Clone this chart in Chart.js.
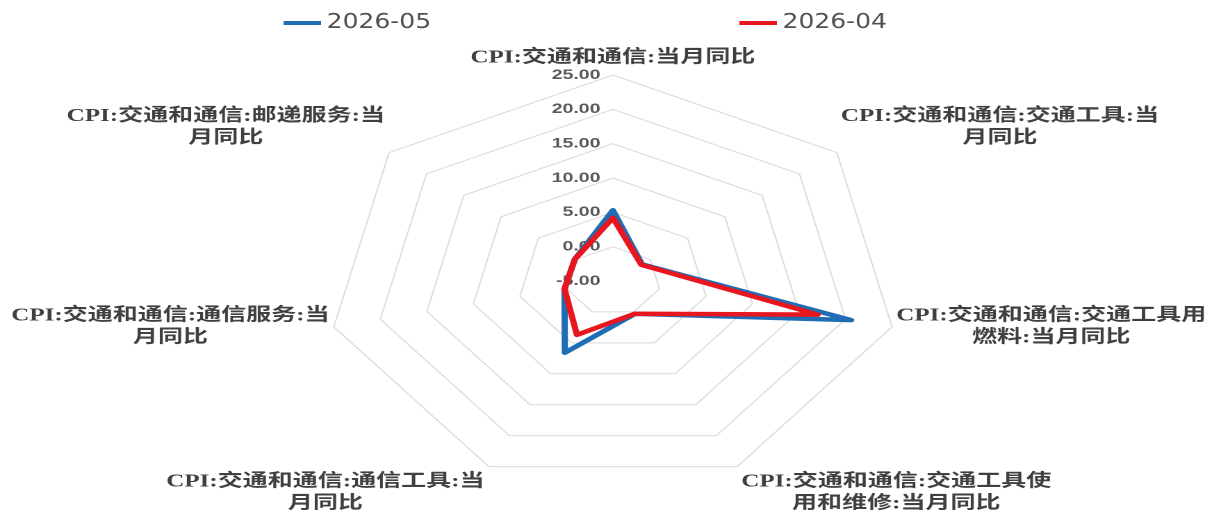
<!DOCTYPE html>
<html>
<head>
<meta charset="utf-8">
<script src="https://cdn.jsdelivr.net/npm/chart.js@4.4.1/dist/chart.umd.min.js"></script>
<style>
html, body { margin: 0; padding: 0; background: #fff; overflow: hidden; }
/* the original picture is a radar that was stretched sideways */
#wrap { width: 867px; height: 510px; transform: scaleX(1.38985); transform-origin: 0 0; }
</style>
</head>
<body>
<div id="wrap"><canvas id="chartCanvas" width="867" height="510"></canvas></div>
<script>
const categories = [
    ["CPI:交通和通信:当月同比"],
    ["CPI:交通和通信:交通工具:当", "月同比"],
    ["CPI:交通和通信:交通工具用", "燃料:当月同比"],
    ["CPI:交通和通信:交通工具使", "用和维修:当月同比"],
    ["CPI:交通和通信:通信工具:当", "月同比"],
    ["CPI:交通和通信:通信服务:当", "月同比"],
    ["CPI:交通和通信:邮递服务:当", "月同比"]
];
const seriesNames = ["2026-05", "2026-04"];
const may2026 = [5.3, -1.1, 20.6, 0.3, 6.6, 0.2, 0.1];
const apr2026 = [4.2, -1.2, 17.0, 0.3, 3.7, 0.2, 0.1];
const tickValues = [-5, 0, 5, 10, 15, 20, 25];
const legendX = [204, 532];

const tickText = {
    id: 'tickText',
    beforeDatasetsDraw(chart) {
        const r = chart.scales.r;
        const ctx = chart.ctx;
        ctx.save();
        ctx.font = 'bold 14px "Liberation Sans", Arial, sans-serif';
        ctx.fillStyle = '#595959';
        ctx.textAlign = 'right';
        ctx.textBaseline = 'middle';
        tickValues.forEach(v => {
            const p = r.getPointPositionForValue(0, v);
            ctx.fillText(v.toFixed(2), p.x - 9, p.y);
        });
        ctx.restore();
    }
};

const axisLabels = {
    id: 'axisLabels',
    afterDraw(chart) {
        const r = chart.scales.r;
        const ctx = chart.ctx;
        const n = chart.data.labels.length;
        const lh = 22;
        ctx.save();
        ctx.font = 'bold 18px "Liberation Serif", "Noto Sans CJK SC", serif';
        ctx.fillStyle = '#404040';
        ctx.textAlign = 'center';
        ctx.textBaseline = 'middle';
        chart.data.labels.forEach((lines, i) => {
            const deg = i * 360 / n;
            const p = r.getPointPosition(i, r.drawingArea);
            const w = Math.max(...lines.map(s => ctx.measureText(s).width));
            const h = lines.length * lh;
            let cx, top;
            if (deg === 0) cx = p.x;
            else if (deg < 180) cx = p.x + 3 + w / 2;
            else cx = p.x - 3 - w / 2;
            if (deg === 0) top = p.y - 6 - h;
            else if (deg < 60 || deg > 300) top = p.y - 3 - h;
            else if (deg < 120 || deg > 240) top = p.y - h / 2;
            else top = p.y + 4;
            lines.forEach((s, j) => ctx.fillText(s, cx, top + lh * (j + 0.5)));
        });
        ctx.restore();
    }
};

const topLegend = {
    id: 'topLegend',
    afterDraw(chart) {
        const ctx = chart.ctx;
        const y = 23;
        ctx.save();
        ctx.font = '20px "Liberation Sans Narrow", "DejaVu Sans Condensed", Arial, sans-serif';
        ctx.fillStyle = '#505050';
        ctx.textAlign = 'left';
        ctx.textBaseline = 'middle';
        chart.data.datasets.forEach((ds, i) => {
            const x = legendX[i];
            ctx.strokeStyle = ds.borderColor;
            ctx.lineWidth = 4;
            ctx.beginPath();
            ctx.moveTo(x, y);
            ctx.lineTo(x + 27, y);
            ctx.stroke();
            ctx.fillText(ds.label, x + 31, y);
        });
        ctx.restore();
    }
};

const ctx = document.getElementById('chartCanvas').getContext('2d');

new Chart(ctx, {
    type: 'radar',
    data: {
        labels: categories,
        datasets: [{
            label: seriesNames[0],
            data: may2026,
            borderColor: '#1f6db5',
            backgroundColor: '#1f6db5',
            borderWidth: 4.5,
            borderJoinStyle: 'round',
            pointRadius: 0,
            fill: false,
            order: 1
        }, {
            label: seriesNames[1],
            data: apr2026,
            borderColor: '#e8161e',
            backgroundColor: '#e8161e',
            borderWidth: 4.5,
            borderJoinStyle: 'round',
            pointRadius: 0,
            fill: false,
            order: 0
        }]
    },
    options: {
        responsive: false,
        animation: false,
        devicePixelRatio: 2,
        layout: { padding: { top: 52, bottom: 0, left: 235, right: 220 } },
        plugins: {
            legend: { display: false },
            tooltip: { enabled: false }
        },
        scales: {
            r: {
                min: -5,
                max: 25,
                ticks: { display: false, stepSize: 5 },
                grid: { color: '#dadada', lineWidth: 1 },
                angleLines: { display: false },
                pointLabels: { display: false }
            }
        }
    },
    plugins: [tickText, axisLabels, topLegend]
});
</script>
</body>
</html>
